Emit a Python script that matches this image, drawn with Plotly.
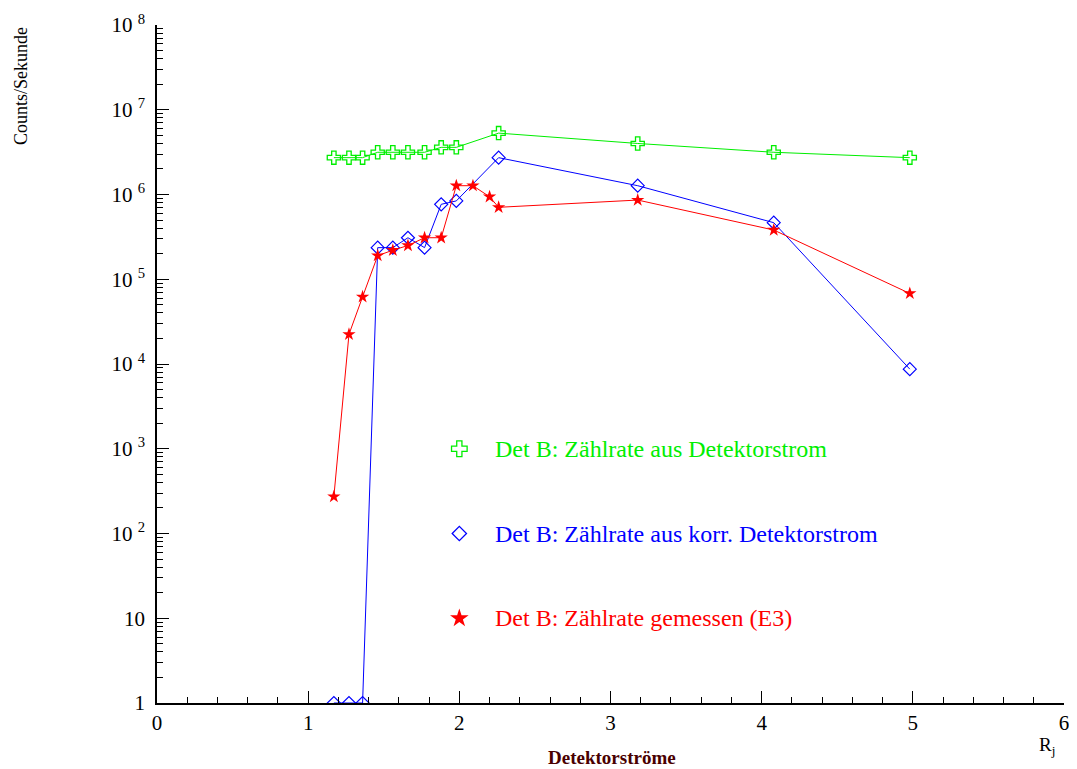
import math
import plotly.graph_objects as go

# ---- data ----
x_green = [1.17, 1.27, 1.36, 1.46, 1.56, 1.66, 1.77, 1.88, 1.98, 2.26, 3.18, 4.08, 4.98]
y_green = [2.72e6, 2.72e6, 2.72e6, 3.15e6, 3.15e6, 3.15e6, 3.15e6, 3.6e6, 3.6e6,
           5.3e6, 4.0e6, 3.15e6, 2.72e6]

x_blue = [1.17, 1.27, 1.36, 1.46, 1.56, 1.66, 1.77, 1.88, 1.98, 2.26, 3.18, 4.08, 4.98]
y_blue = [1, 1, 1, 2.36e5, 2.36e5, 3.09e5, 2.36e5, 7.66e5, 8.4e5,
          2.72e6, 1.27e6, 4.65e5, 8.7e3]

x_red = [1.17, 1.27, 1.36, 1.46, 1.56, 1.66, 1.77, 1.88, 1.98, 2.09, 2.20, 2.26, 3.18, 4.08, 4.98]
y_red = [272, 2.24e4, 6.2e4, 1.9e5, 2.2e5, 2.5e5, 3.09e5, 3.09e5, 1.27e6, 1.27e6,
         9.4e5, 7.06e5, 8.6e5, 3.81e5, 6.8e4]

labels = ["Det B: Zählrate aus Detektorstrom",
          "Det B: Zählrate aus korr. Detektorstrom",
          "Det B: Zählrate gemessen (E3)"]
legend_y = [1e3, 1e2, 1e1]

y_tickvals = [1, 10, 1e2, 1e3, 1e4, 1e5, 1e6, 1e7, 1e8]
y_ticktext = ["1", "10", "10 <sup>2</sup>", "10 <sup>3</sup>", "10 <sup>4</sup>",
              "10 <sup>5</sup>", "10 <sup>6</sup>", "10 <sup>7</sup>", "10 <sup>8</sup>"]

GREEN = "#00ee00"
BLUE = "#0000ff"
RED = "#ff0000"
FONT = "Liberation Serif, Times New Roman, serif"

fig = go.Figure()
fig.add_trace(go.Scatter(x=x_green, y=y_green, mode="lines+markers",
                         line=dict(color=GREEN, width=1),
                         marker=dict(symbol="cross-open", size=11, color=GREEN, line=dict(width=1.3, color=GREEN))))
fig.add_trace(go.Scatter(x=x_blue, y=y_blue, mode="lines+markers",
                         line=dict(color=BLUE, width=1),
                         marker=dict(symbol="diamond-open", size=10, color=BLUE, line=dict(width=1.2, color=BLUE))))
fig.add_trace(go.Scatter(x=x_red, y=y_red, mode="lines+markers",
                         line=dict(color=RED, width=1),
                         marker=dict(symbol="star", size=10, color=RED, line=dict(width=0))))

# legend-like markers
sym = [("cross-open", GREEN, 13), ("diamond-open", BLUE, 11), ("star", RED, 14)]
for (s, c, sz), yv in zip(sym, legend_y):
    mline = dict(width=1.3, color=c) if "open" in s else dict(width=0)
    fig.add_trace(go.Scatter(x=[2.0], y=[yv], mode="markers",
                             marker=dict(symbol=s, size=sz, color=c, line=mline),
                             cliponaxis=False))
for lab, c, yv in zip(labels, [GREEN, BLUE, RED], legend_y):
    fig.add_annotation(x=2.22, y=math.log10(yv), xref="x", yref="y",
                       text=lab, showarrow=False, xanchor="left", yanchor="middle",
                       font=dict(family=FONT, size=24, color=c))

fig.add_annotation(x=0, y=1, xref="paper", yref="paper", xshift=-148, yanchor="top", xanchor="left",
                   text="Counts/Sekunde", textangle=-90, showarrow=False,
                   font=dict(family=FONT, size=18, color="black"))
fig.add_annotation(x=0.502, y=0, xref="paper", yref="paper", yshift=-54, yanchor="middle",
                   text="<b>Detektorströme</b>", showarrow=False,
                   font=dict(family=FONT, size=19, color="#4a0000"))
fig.add_annotation(x=1, y=0, xref="paper", yref="paper", yshift=-43, xshift=-7, yanchor="middle",
                   text="R<sub>j</sub>", showarrow=False,
                   font=dict(family=FONT, size=19, color="black"))

# the page body adds an 8px offset; compensate so the plot area matches the reference
fig.update_layout(
    width=1069, height=761,
    margin=dict(l=149, r=13, t=17, b=66, autoexpand=False),
    paper_bgcolor="white", plot_bgcolor="white",
    showlegend=False,
    font=dict(family=FONT, size=21, color="black"),
    xaxis=dict(range=[0, 6], showgrid=False, zeroline=False, showline=True, linecolor="black", linewidth=1.5,
               ticks="inside", ticklen=12, tickwidth=1, tickcolor="black", dtick=1,
               minor=dict(ticks="inside", ticklen=6, dtick=0.2, tickcolor="black", showgrid=False),
               tickfont=dict(family=FONT, size=21)),
    yaxis=dict(type="log", range=[0, 8], showgrid=False, zeroline=False, showline=True, linecolor="black",
               linewidth=1.5, ticks="inside", ticklen=12, tickwidth=1, tickcolor="black",
               tickvals=y_tickvals, ticktext=y_ticktext,
               minor=dict(ticks="inside", ticklen=6, dtick="D1", tickcolor="black", showgrid=False),
               tickfont=dict(family=FONT, size=21), ticklabelstandoff=6),
)

fig.write_html("out.html")
